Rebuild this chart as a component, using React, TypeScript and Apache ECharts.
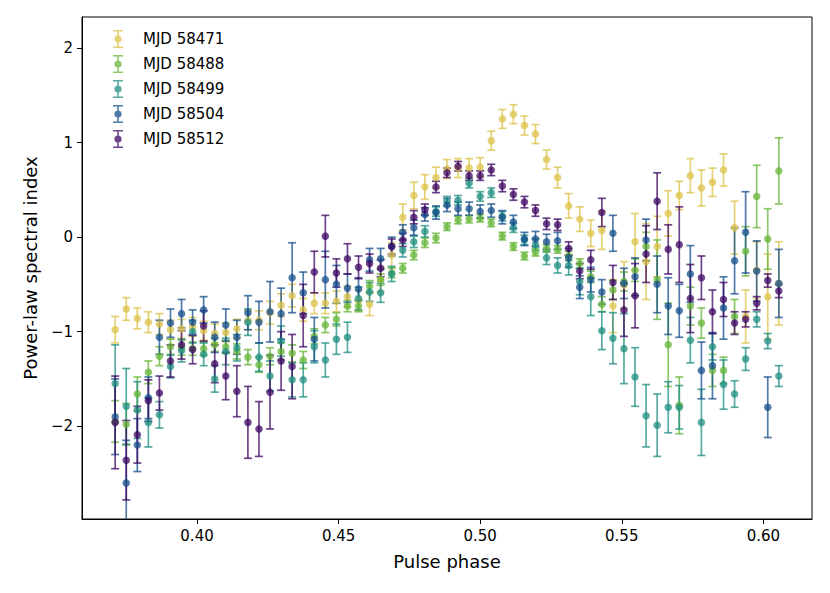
import React, { useEffect, useRef } from "react";
import * as echarts from "echarts";

// Pulse phase of each bin (bin / 256)
const phase = [
  0.37109, 0.375, 0.37891, 0.38281, 0.38672, 0.39063, 0.39453, 0.39844, 0.40234, 0.40625,
  0.41016, 0.41406, 0.41797, 0.42188, 0.42578, 0.42969, 0.43359, 0.4375, 0.44141, 0.44531,
  0.44922, 0.45313, 0.45703, 0.46094, 0.46484, 0.46875, 0.47266, 0.47656, 0.48047, 0.48438,
  0.48828, 0.49219, 0.49609, 0.5, 0.50391, 0.50781, 0.51172, 0.51563, 0.51953, 0.52344,
  0.52734, 0.53125, 0.53516, 0.53906, 0.54297, 0.54688, 0.55078, 0.55469, 0.55859, 0.5625,
  0.56641, 0.57031, 0.57422, 0.57813, 0.58203, 0.58594, 0.58984, 0.59375, 0.59766, 0.60156,
  0.60547,
];

const seriesNames = ["MJD 58471", "MJD 58488", "MJD 58499", "MJD 58504", "MJD 58512"];
const seriesColors = ["#dcc34a", "#66b637", "#1f8f82", "#164f8c", "#3d0563"];

const idx58471 = [
  -0.98, -0.76, -0.86, -0.9, -0.92, -0.98, -0.97, -0.95, -0.99, -1.02,
  -1.01, -0.97, -0.88, -0.88, -0.8, -0.72, -0.62, -0.77, -0.7, -0.7,
  -0.68, -0.63, -0.67, -0.71, -0.45, -0.19, 0.21, 0.44, 0.53, 0.63,
  0.72, 0.73, 0.73, 0.74, 1.02, 1.25, 1.3, 1.18, 1.09, 0.82,
  0.63, 0.33, 0.19, 0.04, 0.07, -0.73, -0.51, -0.05, -0.26, -0.1,
  0.25, 0.44, 0.65, 0.52, 0.58, 0.71, 0.1, -0.84, -0.35, -0.63,
  -0.49,
];
const err58471 = [
  0.14, 0.12, 0.11, 0.11, 0.11, 0.1, 0.1, 0.1, 0.1, 0.1,
  0.1, 0.1, 0.1, 0.1, 0.12, 0.12, 0.12, 0.12, 0.11, 0.11,
  0.11, 0.11, 0.11, 0.12, 0.13, 0.13, 0.14, 0.14, 0.13, 0.11,
  0.1, 0.1, 0.1, 0.1, 0.1, 0.1, 0.1, 0.1, 0.1, 0.1,
  0.11, 0.13, 0.13, 0.14, 0.2, 0.28, 0.25, 0.3, 0.4, 0.32,
  0.24, 0.15, 0.18, 0.19, 0.15, 0.17, 0.28, 0.28, 0.3, 0.45,
  0.44,
];

const idx58488 = [
  -1.95, -1.98, -1.66, -1.43, -1.26, -1.16, -1.17, -1.18, -1.18, -1.14,
  -1.16, -1.21, -1.27, -1.35, -1.26, -1.21, -1.23, -1.3, -1.05, -0.93,
  -0.87, -0.73, -0.73, -0.52, -0.45, -0.38, -0.33, -0.19, -0.06, -0.01,
  0.11, 0.18, 0.19, 0.2, 0.15, 0.01, -0.1, -0.2, -0.16, -0.12,
  -0.13, -0.2, -0.28, -0.42, -0.71, -0.56, -0.47, -0.35, -0.1, -0.45,
  -1.14, -1.78, -0.73, -0.91, -1.41, -1.41, -0.84, -0.15, 0.43, -0.02,
  0.7,
];
const err58488 = [
  0.22, 0.22, 0.18, 0.12, 0.1, 0.08, 0.08, 0.07, 0.07, 0.07,
  0.07, 0.08, 0.08, 0.08, 0.09, 0.09, 0.09, 0.09, 0.08, 0.08,
  0.07, 0.06, 0.06, 0.06, 0.06, 0.05, 0.05, 0.05, 0.05, 0.05,
  0.04, 0.04, 0.04, 0.04, 0.04, 0.04, 0.04, 0.04, 0.04, 0.04,
  0.04, 0.05, 0.05, 0.06, 0.08, 0.1, 0.1, 0.12, 0.15, 0.42,
  0.44, 0.3, 0.2, 0.16, 0.17, 0.14, 0.18, 0.26, 0.33, 0.32,
  0.35,
];

const idx58499 = [
  -1.55, -1.79, -1.83, -1.96, -1.88, -1.37, -1.2, -1.0, -1.24, -1.5,
  -1.21, -1.17, -0.9, -1.27, -1.47, -1.1, -1.51, -1.51, -1.16, -1.3,
  -1.08, -1.06, -0.65, -0.58, -0.59, -0.39, -0.14, -0.05, 0.06, 0.27,
  0.38, 0.39, 0.57, 0.43, 0.47, 0.22, 0.1, -0.03, -0.08, -0.22,
  -0.3, -0.3, -0.47, -0.63, -0.99, -1.07, -1.18, -1.48, -1.89, -1.99,
  -1.8, -1.8, -1.09, -1.96, -1.16, -1.56, -1.66, -1.29, -0.87, -1.1,
  -1.47,
];
const err58499 = [
  0.41, 0.4, 0.3, 0.26, 0.14, 0.12, 0.12, 0.12, 0.12, 0.14,
  0.14, 0.14, 0.14, 0.15, 0.16, 0.16, 0.18, 0.18, 0.17, 0.18,
  0.16, 0.16, 0.12, 0.1, 0.1, 0.08, 0.07, 0.06, 0.06, 0.05,
  0.05, 0.05, 0.05, 0.05, 0.05, 0.05, 0.05, 0.05, 0.06, 0.07,
  0.08, 0.1, 0.14, 0.2, 0.2, 0.27, 0.37, 0.31, 0.33, 0.33,
  0.27, 0.23, 0.24, 0.35, 0.14, 0.26, 0.14, 0.12, 0.08, 0.08,
  0.11,
];

const idx58504 = [
  -1.9, -2.6, -2.2, -1.7, -1.06, -0.91, -0.81, -0.9, -0.77, -1.06,
  -0.93, -1.06, -0.8, -0.9, -0.79, -0.81, -0.43, -0.59, -1.08, -0.45,
  -0.5, -0.54, -0.55, -0.24, -0.23, -0.1, 0.05, 0.1, 0.24, 0.26,
  0.34, 0.3, 0.3, 0.27, 0.28, 0.21, 0.16, -0.02, -0.02, -0.05,
  -0.04, -0.22, -0.53, -0.45, -0.58, 0.04, -0.49, -0.42, -0.03, -0.5,
  -0.73, -0.78, -0.39, -1.41, -1.36, -0.75, -0.25, 0.05, -0.36, -1.8,
  -0.49,
];
const err58504 = [
  0.4, 0.45, 0.28, 0.22, 0.18, 0.15, 0.15, 0.13, 0.14, 0.16,
  0.17, 0.18, 0.18, 0.22, 0.32, 0.27, 0.37, 0.22, 0.23, 0.3,
  0.2, 0.15, 0.12, 0.12, 0.11, 0.1, 0.08, 0.08, 0.07, 0.07,
  0.07, 0.07, 0.07, 0.07, 0.07, 0.07, 0.07, 0.07, 0.08, 0.08,
  0.09, 0.1, 0.12, 0.13, 0.13, 0.19, 0.16, 0.2, 0.22, 0.3,
  0.3, 0.28, 0.3, 0.3, 0.35, 0.33, 0.35, 0.43, 0.32, 0.32,
  0.36,
];

const idx58512 = [
  -1.96, -2.36, -2.09, -1.73, -1.65, -1.31, -1.14, -1.19, -0.94, -1.34,
  -1.47, -1.63, -1.96, -2.03, -1.64, -1.31, -1.37, -0.83, -0.37, 0.01,
  -0.38, -0.23, -0.32, -0.28, -0.33, -0.1, -0.03, 0.21, 0.29, 0.53,
  0.68, 0.75, 0.65, 0.65, 0.71, 0.54, 0.45, 0.37, 0.28, 0.14,
  0.13, -0.12, -0.36, -0.24, 0.26, -0.48, -0.77, -0.62, -0.18, 0.38,
  -0.13, -0.08, -0.65, -0.43, -0.79, -0.66, -0.91, -0.87, -0.7, -0.46,
  -0.57,
];
const err58512 = [
  0.49, 0.42, 0.3, 0.22, 0.18, 0.17, 0.15, 0.15, 0.16, 0.2,
  0.25, 0.27, 0.38, 0.29, 0.39, 0.31, 0.34, 0.33, 0.22, 0.22,
  0.15, 0.16, 0.12, 0.1, 0.09, 0.08, 0.07, 0.07, 0.06, 0.06,
  0.05, 0.05, 0.05, 0.05, 0.06, 0.06, 0.06, 0.06, 0.06, 0.06,
  0.06, 0.07, 0.08, 0.1, 0.15, 0.18, 0.28, 0.34, 0.3, 0.3,
  0.26, 0.4, 0.36, 0.23, 0.23, 0.18, 0.12, 0.08, 0.07, 0.07,
  0.07,
];

const allValues = [idx58471, idx58488, idx58499, idx58504, idx58512];
const allErrors = [err58471, err58488, err58499, err58504, err58512];

const xTicks = [0.4, 0.45, 0.5, 0.55, 0.6];
const yTicks = [-2, -1, 0, 1, 2];

const FONT = "DejaVu Sans";
const ALPHA = 0.75;
const LEGEND_ICON =
  "path://M0,0H10V1.6H0Z M0,16.4H10V18H0Z M4.2,0H5.8V18H4.2Z M8.6,9A3.6,3.6,0,1,1,1.4,9A3.6,3.6,0,1,1,8.6,9Z";

function fmtY(v: number) {
  return v < 0 ? "\u2212" + Math.abs(v) : String(v);
}

export default function App() {
  const ref = useRef<HTMLDivElement>(null);

  useEffect(() => {
    if (!ref.current) return;
    const chart = echarts.init(ref.current, undefined, { renderer: "svg" });

    const series: any[] = [];
    seriesNames.forEach((name, s) => {
      const color = seriesColors[s];
      const vals = allValues[s];
      const errs = allErrors[s];
      series.push({
        type: "custom",
        name: name + " error",
        clip: true,
        silent: true,
        encode: { x: 0, y: 1 },
        data: phase.map((p, i) => [p, vals[i], errs[i]]),
        renderItem: (params: any, api: any) => {
          const x = api.value(0);
          const y = api.value(1);
          const e = api.value(2);
          const top = api.coord([x, y + e]);
          const bot = api.coord([x, y - e]);
          const cw = 4;
          const style = { stroke: color, lineWidth: 1.7, opacity: ALPHA };
          return {
            type: "group",
            children: [
              { type: "line", shape: { x1: top[0], y1: top[1], x2: bot[0], y2: bot[1] }, style },
              { type: "line", shape: { x1: top[0] - cw, y1: top[1], x2: top[0] + cw, y2: top[1] }, style },
              { type: "line", shape: { x1: bot[0] - cw, y1: bot[1], x2: bot[0] + cw, y2: bot[1] }, style },
            ],
          };
        },
      });
      series.push({
        type: "scatter",
        name,
        symbol: "circle",
        symbolSize: 7.5,
        itemStyle: { color, opacity: ALPHA },
        data: phase.map((p, i) => [p, vals[i]]),
      });
    });

    chart.setOption({
      animation: false,
      backgroundColor: "#ffffff",
      textStyle: { fontFamily: FONT },
      grid: {
        left: 82,
        right: 18,
        top: 17,
        bottom: 74,
        show: true,
        borderColor: "#000",
        borderWidth: 1,
        backgroundColor: "transparent",
      },
      legend: {
        orient: "vertical",
        left: 108,
        top: 25,
        itemWidth: 10,
        itemHeight: 18,
        itemGap: 7,
        data: seriesNames.map((n) => ({ name: n, icon: LEGEND_ICON })),
        textStyle: { fontFamily: FONT, fontSize: 15, color: "#000", padding: [0, 0, 0, 15] },
        selectedMode: false,
      },
      xAxis: {
        type: "value",
        min: 0.359375,
        max: 0.617188,
        name: "Pulse phase",
        nameLocation: "middle",
        nameGap: 33,
        nameTextStyle: { fontFamily: FONT, fontSize: 18, color: "#000" },
        axisLine: { show: true, onZero: false, lineStyle: { color: "#000", width: 1 } },
        axisTick: {
          show: true,
          inside: false,
          length: 5,
          lineStyle: { color: "#000", width: 1 },
          customValues: xTicks,
        },
        axisLabel: {
          fontFamily: FONT,
          fontSize: 15,
          color: "#000",
          margin: 9,
          customValues: xTicks,
          formatter: (v: number) => v.toFixed(2),
        },
        splitLine: { show: false },
      },
      yAxis: {
        type: "value",
        min: -2.982,
        max: 2.328,
        name: "Power-law spectral index",
        nameLocation: "middle",
        nameGap: 40,
        nameTextStyle: { fontFamily: FONT, fontSize: 18, color: "#000" },
        axisLine: { show: true, onZero: false, lineStyle: { color: "#000", width: 1 } },
        axisTick: {
          show: true,
          inside: false,
          length: 5,
          lineStyle: { color: "#000", width: 1 },
          customValues: yTicks,
        },
        axisLabel: {
          fontFamily: FONT,
          fontSize: 15,
          color: "#000",
          margin: 9,
          customValues: yTicks,
          formatter: (v: number) => fmtY(v),
        },
        splitLine: { show: false },
      },
      series,
    });

    return () => chart.dispose();
  }, []);

  return (
    <div
      ref={ref}
      style={{ position: "fixed", left: 0, top: 0, width: 830, height: 593, background: "#fff" }}
    />
  );
}
